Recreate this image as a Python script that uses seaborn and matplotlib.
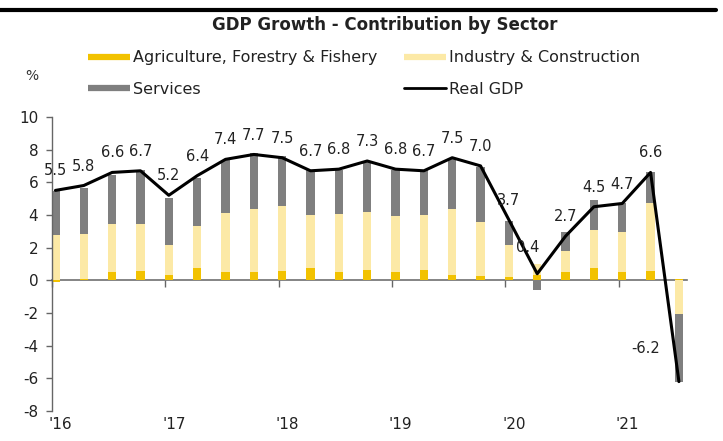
import numpy as np
import pandas as pd
import matplotlib
matplotlib.use("Agg")
import matplotlib.pyplot as plt
from matplotlib.lines import Line2D
import seaborn as sns

# Quarterly contributions to real GDP growth (percentage points)
quarters = [
    "2016Q1", "2016Q2", "2016Q3", "2016Q4",
    "2017Q1", "2017Q2", "2017Q3", "2017Q4",
    "2018Q1", "2018Q2", "2018Q3", "2018Q4",
    "2019Q1", "2019Q2", "2019Q3", "2019Q4",
    "2020Q1", "2020Q2", "2020Q3", "2020Q4",
    "2021Q1", "2021Q2", "2021Q3",
]
year_labels = ["'16", "'17", "'18", "'19", "'20", "'21"]

real_gdp = [5.5, 5.8, 6.6, 6.7, 5.2, 6.4, 7.4, 7.7, 7.5, 6.7, 6.8, 7.3,
            6.8, 6.7, 7.5, 7.0, 3.7, 0.4, 2.7, 4.5, 4.7, 6.6, -6.2]
agriculture = [-0.1, 0.1, 0.5, 0.55, 0.3, 0.75, 0.5, 0.5, 0.55, 0.75, 0.5, 0.65,
               0.5, 0.6, 0.3, 0.25, 0.2, 0.35, 0.5, 0.75, 0.5, 0.55, 0.1]
industry = [2.8, 2.75, 2.95, 2.9, 1.85, 2.6, 3.6, 3.85, 4.0, 3.25, 3.55, 3.5,
            3.45, 3.4, 4.05, 3.3, 1.95, 0.65, 1.3, 2.35, 2.45, 4.2, -2.05]
services = [2.65, 2.8, 3.0, 3.3, 2.9, 2.9, 3.25, 3.45, 3.05, 2.75, 2.7, 3.1,
            2.8, 2.75, 3.1, 3.4, 1.45, -0.6, 1.15, 1.8, 1.8, 1.85, -4.15]

C_AGRI = "#F2C200"
C_IND = "#FCE9A6"
C_SERV = "#7F7F7F"

sns.set_style("ticks")
plt.rcParams["font.family"] = ["DejaVu Sans"]
plt.rcParams["axes.unicode_minus"] = False

n = len(quarters)
df = pd.DataFrame({
    "quarter": quarters,
    "pos": np.arange(n) + 0.12,
    "gdp": real_gdp,
    "agriculture": agriculture,
    "industry": industry,
    "services": services,
})
year_pos = np.arange(0, n, 4)

fig = plt.figure(figsize=(7.23, 4.41), dpi=100)
ax = fig.add_axes([0.072, 0.068, 0.878, 0.667])

# Stacked sector bars (positives upward, negatives downward)
pos_base = np.zeros(n)
neg_base = np.zeros(n)
for col, color in [("agriculture", C_AGRI), ("industry", C_IND), ("services", C_SERV)]:
    v = df[col].to_numpy(dtype=float)
    bottom = np.where(v >= 0, pos_base, neg_base)
    ax.bar(df["pos"], v, width=0.3, bottom=bottom, color=color,
           linewidth=0, zorder=2)
    pos_base += np.clip(v, 0, None)
    neg_base += np.clip(v, None, 0)

# Real GDP line
sns.lineplot(data=df, x="pos", y="gdp", color="black", linewidth=2.2,
             ax=ax, zorder=4, legend=False)

# Value labels
special = {len(df) - 1: (-24, 24), 17: (-7, 19)}
for i, (x, y) in enumerate(zip(df["pos"], df["gdp"])):
    dx, dy = special.get(i, (0, 14))
    ax.annotate(f"{y:.1f}", (x, y), xytext=(dx, dy), textcoords="offset points",
                ha="center", va="center", fontsize=10.5, color="#222222", zorder=5)

ax.set_xlim(0, 22.4)
ax.set_ylim(-8, 10)
ax.set_yticks(np.arange(-8, 11, 2))
ax.set_xticks(year_pos + 0.3)
ax.set_xticklabels(year_labels)
ax.set_xlabel("")
ax.set_ylabel("")
ax.tick_params(axis="x", length=0, pad=4, labelsize=11, labelcolor="#222222")
ax.tick_params(axis="y", length=4, width=1, color="#666666", pad=6,
               labelsize=11, labelcolor="#222222")
for side in ("top", "right", "bottom"):
    ax.spines[side].set_visible(False)
ax.spines["left"].set_color("#666666")
ax.spines["left"].set_linewidth(1)

# Zero line carrying the year tick marks
zero = ax.secondary_xaxis(0, transform=ax.transData)
zero.set_xticks(year_pos)
zero.tick_params(axis="x", length=5, width=1, color="#666666",
                 labelbottom=False, labeltop=False)
for s in ("top", "bottom"):
    zero.spines[s].set_color("#6f6f6f")
    zero.spines[s].set_linewidth(1.2)

# Title, unit and legend
fig.text(0.532, 0.943, "GDP Growth - Contribution by Sector", ha="center",
         va="center", fontsize=12, fontweight="bold", color="#222222")
fig.text(0.044, 0.828, "%", ha="center", va="center", fontsize=10, color="#333333")

handles = [
    Line2D([], [], color=C_AGRI, lw=4.5, solid_capstyle="butt"),
    Line2D([], [], color=C_SERV, lw=4.5, solid_capstyle="butt"),
    Line2D([], [], color=C_IND, lw=4.5, solid_capstyle="butt"),
    Line2D([], [], color="black", lw=2),
]
labels = ["Agriculture, Forestry & Fishery", "Services",
          "Industry & Construction", "Real GDP"]
fig.legend(handles, labels, loc="upper left", bbox_to_anchor=(0.122, 0.886),
           ncol=2, frameon=False, fontsize=11.5, handlelength=2.6,
           handletextpad=0.2, columnspacing=1.7, labelspacing=1.05,
           borderpad=0, borderaxespad=0, labelcolor="#222222")

# Rule across the top of the figure
fig.add_artist(Line2D([0, 0.99], [0.977, 0.977], transform=fig.transFigure,
                      color="black", lw=3))

fig.savefig("out.png", dpi=100)
